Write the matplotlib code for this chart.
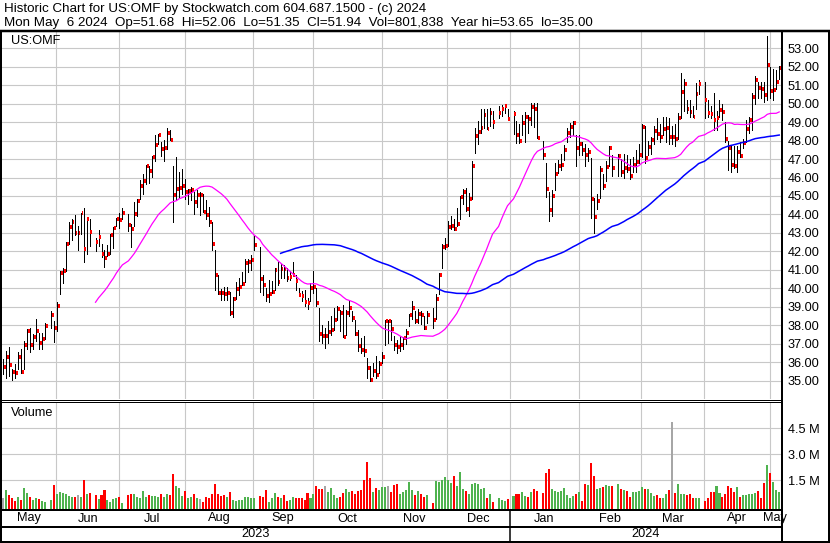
import numpy as np
import pandas as pd
import matplotlib
matplotlib.use("Agg")
import matplotlib.pyplot as plt
from matplotlib.lines import Line2D

plt.rcParams['font.family'] = ['Liberation Sans', 'DejaVu Sans']

START = "2023-05-08"
END = "2024-05-06"
HOLIDAYS = ["2023-05-29", "2023-06-19", "2023-07-04", "2023-09-04", "2023-11-23",
            "2023-12-25", "2024-01-01", "2024-01-15", "2024-02-19", "2024-03-29"]

# daily high / low / close (USD) and volume (millions), one row per month
HIGH = [
    36.16, 36.61, 36.84, 35.65, 35.88, 36.52, 36.70, 37.15, 37.78, 37.87, 37.51, 38.32, 37.60, 37.60, 38.14, 38.77, 38.23,
    39.26, 40.94, 41.12, 42.51, 43.59, 43.74, 43.95, 43.40, 44.10, 44.37, 43.88, 43.77, 42.74, 43.14, 42.38, 42.06, 42.33, 42.92, 43.32, 43.83, 44.10,
    44.37, 44.01, 43.50, 44.67, 44.85, 45.84, 46.20, 46.69, 46.65, 47.19, 48.31, 48.37, 47.95, 48.01, 48.68, 48.60, 46.65, 47.10, 46.29, 46.44,
    45.93, 45.39, 45.48, 45.21, 45.30, 45.21, 45.12, 44.76, 44.40, 43.58, 42.05, 40.70, 39.97, 40.06, 40.06, 39.79, 39.52, 40.34, 40.55, 40.88, 41.56, 41.60, 41.78,
    42.83, 42.23, 40.70, 40.01, 40.46, 40.37, 41.09, 41.45, 41.32, 41.27, 41.09, 40.91, 41.45, 40.73, 40.01, 39.83, 39.92, 39.47, 40.28, 40.91,
    40.01, 38.93, 38.03, 37.85, 38.21, 38.48, 38.93, 39.02, 38.84, 39.11, 38.84, 39.34, 38.75, 38.30, 37.76, 37.31, 37.40, 36.23, 35.77, 35.95, 36.32, 36.05,
    36.57, 38.30, 38.30, 38.30, 37.40, 37.20, 37.40, 37.35, 37.80, 38.59, 39.31, 38.77, 38.86, 38.77, 38.50, 38.77, 38.95, 39.67, 40.81, 42.38, 42.74,
    43.65, 43.92, 43.74, 44.37, 45.00, 45.36, 45.45, 45.18, 46.90, 48.70, 49.06, 49.73, 49.73, 49.73, 49.78, 49.60, 49.87, 49.91, 49.91, 49.69,
    49.60, 49.06, 48.88, 49.39, 49.57, 49.40, 50.02, 50.02, 50.05, 48.00, 46.77, 45.24, 45.30, 46.77, 46.95, 47.26, 47.77, 48.67, 48.94, 49.08, 48.30,
    48.30, 47.90, 47.80, 47.60, 47.04, 44.90, 45.10, 46.60, 46.20, 46.90, 47.70, 47.20, 47.30, 47.00, 47.30, 47.20, 47.00, 47.10, 47.50, 47.80,
    48.90, 48.80, 48.00, 48.20, 48.80, 49.20, 48.90, 49.30, 49.30, 49.20, 48.80, 48.90, 49.50, 51.65, 51.35, 50.20, 50.20, 49.90, 51.10, 51.30,
    51.20, 50.20, 49.90, 50.60, 49.60, 50.20, 50.00, 49.00, 48.00, 47.70, 47.70, 47.70, 47.90, 48.10, 49.10, 49.30, 50.60, 51.50, 51.20, 51.20, 51.20, 53.65,
    52.00, 51.90, 51.80, 52.06,
]
LOW = [
    35.34, 35.16, 35.25, 35.04, 35.16, 35.61, 35.42, 35.61, 36.70, 36.55, 36.70, 37.15, 36.70, 36.70, 37.24, 37.87, 37.09,
    37.69, 39.71, 40.31, 40.94, 42.38, 42.62, 42.90, 42.10, 42.92, 41.43, 41.84, 42.29, 42.02, 42.29, 41.71, 41.16, 41.75, 41.84, 42.20, 43.38, 43.29,
    43.74, 43.11, 42.24, 43.40, 43.94, 44.85, 45.12, 45.66, 45.71, 46.02, 46.92, 47.83, 47.19, 46.92, 47.52, 48.01, 43.58, 44.85, 44.94, 45.12,
    44.85, 44.58, 44.76, 44.04, 44.40, 43.95, 44.13, 43.77, 43.40, 42.05, 39.88, 39.70, 39.34, 39.34, 39.34, 38.53, 38.44, 39.43, 39.61, 40.16, 40.34, 40.88, 40.97,
    42.05, 39.79, 39.65, 39.29, 39.23, 39.74, 39.92, 40.19, 40.55, 40.55, 40.37, 40.46, 40.68, 39.92, 39.56, 39.29, 39.02, 38.87, 39.29, 39.74,
    39.02, 37.13, 37.04, 36.77, 37.04, 37.49, 37.76, 38.30, 37.67, 37.34, 37.49, 38.51, 38.21, 37.49, 36.59, 36.50, 36.32, 35.14, 35.00, 35.23, 35.14, 35.41,
    35.94, 36.95, 37.04, 37.20, 36.65, 36.50, 36.60, 36.70, 37.00, 37.96, 38.32, 38.14, 38.14, 38.05, 37.78, 38.14, 37.87, 38.32, 39.67, 41.12, 42.11,
    42.29, 43.19, 43.16, 43.40, 43.74, 44.55, 44.19, 43.92, 44.82, 47.35, 47.80, 48.43, 48.70, 48.61, 48.79, 48.70, 49.24, 49.33, 49.51, 49.12,
    48.34, 47.89, 47.89, 48.31, 47.95, 48.40, 48.85, 48.76, 48.16, 46.99, 44.94, 43.62, 43.89, 45.33, 46.23, 46.41, 46.95, 47.95, 48.22, 48.31, 46.60,
    47.20, 47.20, 46.60, 46.90, 43.80, 43.00, 44.30, 44.90, 45.40, 45.80, 46.60, 46.10, 46.10, 46.10, 46.00, 46.30, 45.90, 46.30, 46.30, 46.80,
    47.10, 46.80, 47.20, 47.30, 47.80, 48.10, 47.90, 48.30, 47.90, 47.80, 47.80, 47.70, 48.10, 49.20, 49.60, 49.50, 49.30, 49.30, 49.70, 50.50,
    49.20, 49.30, 49.20, 48.60, 48.60, 49.30, 49.10, 47.90, 46.40, 46.30, 46.50, 46.30, 47.10, 47.60, 47.90, 48.40, 48.60, 50.00, 50.30, 50.30, 50.10, 50.20,
    50.30, 50.20, 50.80, 51.35,
]
CLOSE = [
    35.74, 36.28, 35.83, 35.47, 35.40, 36.28, 35.47, 36.93, 37.69, 36.93, 37.36, 37.69, 37.04, 37.24, 37.96, 38.56, 37.83,
    39.04, 40.81, 40.94, 42.40, 43.32, 43.59, 43.00, 43.00, 44.06, 42.11, 43.75, 43.05, 42.51, 42.78, 41.84, 41.66, 41.88, 42.89, 43.27, 43.77, 43.70,
    44.06, 43.41, 43.23, 44.00, 44.72, 45.52, 45.80, 46.60, 46.33, 47.09, 47.79, 48.28, 47.56, 47.62, 48.42, 48.06, 45.03, 45.39, 45.45, 45.52,
    45.20, 45.25, 45.35, 44.67, 45.07, 45.07, 44.13, 43.95, 43.58, 42.41, 40.73, 39.76, 39.72, 39.67, 39.76, 38.66, 39.40, 39.97, 40.05, 40.21, 41.38, 41.45, 41.51,
    42.32, 40.52, 40.18, 39.59, 39.70, 39.79, 41.00, 40.33, 41.05, 41.04, 40.55, 40.59, 40.71, 40.37, 39.61, 39.56, 39.27, 39.20, 39.99, 40.06,
    39.20, 37.50, 37.40, 37.40, 37.61, 37.76, 38.30, 38.87, 38.66, 37.34, 38.66, 38.93, 38.39, 37.52, 36.86, 36.68, 36.60, 35.68, 35.05, 35.50, 35.32, 35.90,
    36.30, 38.21, 38.21, 37.80, 36.95, 36.84, 36.93, 37.30, 37.55, 38.54, 38.95, 38.23, 38.59, 38.54, 37.83, 38.56, 38.29, 39.40, 40.72, 42.24, 42.29,
    43.34, 43.38, 43.19, 43.47, 44.96, 45.22, 44.31, 44.86, 46.62, 48.25, 48.47, 48.70, 49.37, 48.61, 49.48, 49.01, 49.48, 49.73, 49.87, 49.19,
    49.42, 48.32, 47.98, 48.94, 49.30, 49.15, 49.84, 49.73, 48.16, 47.23, 45.37, 44.25, 45.01, 46.20, 46.60, 46.66, 47.50, 48.43, 48.76, 48.94, 47.58,
    47.82, 47.49, 47.22, 47.37, 44.84, 43.88, 44.73, 46.41, 45.56, 46.59, 47.58, 46.50, 47.17, 46.31, 46.49, 46.44, 46.11, 46.70, 46.85, 47.20,
    48.72, 47.04, 47.64, 48.04, 48.54, 48.36, 48.22, 48.63, 48.70, 48.22, 48.22, 48.09, 49.25, 50.65, 51.07, 49.71, 49.53, 49.30, 50.51, 51.07,
    50.20, 49.48, 49.43, 49.12, 49.20, 49.66, 49.53, 48.09, 47.58, 46.68, 46.60, 47.40, 47.17, 47.89, 48.65, 49.12, 50.38, 51.28, 50.85, 50.78, 50.47, 52.10,
    50.70, 50.76, 51.19, 51.94,
]
VOLUME = [
    0.44, 0.93, 0.63, 0.44, 0.31, 0.54, 0.35, 1.03, 0.77, 0.50, 0.33, 0.44, 0.41, 0.29, 0.21, 0.35, 1.22,
    0.68, 0.79, 0.73, 0.68, 0.58, 0.49, 0.49, 0.63, 0.54, 1.51, 0.70, 0.77, 0.63, 0.41, 0.63, 0.93, 0.33, 0.25, 0.41, 0.44, 0.52,
    0.14, 0.63, 0.70, 0.70, 0.54, 0.44, 0.87, 0.54, 0.63, 0.58, 0.58, 0.54, 0.68, 0.49, 0.70, 0.63, 1.86, 1.16, 1.03, 0.58,
    0.89, 0.44, 0.49, 0.70, 0.44, 0.41, 0.25, 0.50, 0.48, 0.68, 1.28, 0.68, 0.60, 0.64, 0.50, 0.79, 0.33, 0.29, 0.33, 0.35, 0.52, 0.54, 0.48,
    0.48, 0.58, 0.54, 0.93, 0.25, 0.48, 0.75, 0.54, 0.44, 0.64, 0.29, 0.35, 0.52, 0.48, 0.48, 0.48, 0.35, 0.75, 0.48, 0.70,
    1.16, 0.97, 1.00, 1.16, 0.83, 1.03, 0.64, 0.44, 0.54, 0.77, 0.97, 0.83, 0.89, 0.71, 0.89, 0.95, 1.51, 2.57, 1.64, 0.83, 1.03, 0.93,
    1.08, 1.12, 1.18, 0.83, 1.22, 1.28, 0.70, 0.83, 0.93, 1.37, 0.93, 0.64, 0.89, 0.70, 0.54, 0.64, 0.19, 1.45, 1.37, 1.51, 1.70,
    1.51, 1.35, 1.74, 1.18, 1.95, 0.99, 0.87, 0.68, 1.26, 1.32, 1.26, 0.97, 1.06, 0.48, 0.68, 0.21, 0.44, 0.33, 0.29, 0.41,
    0.58, 0.70, 0.68, 0.83, 0.58, 0.54, 0.83, 0.99, 0.89, 0.77, 1.93, 2.15, 0.99, 0.89, 0.83, 0.89, 1.03, 0.64, 0.48, 0.58, 0.70,
    0.79, 0.29, 1.28, 1.22, 2.48, 1.76, 0.99, 1.03, 1.08, 1.22, 1.18, 1.16, 1.26, 0.99, 0.93, 0.89, 0.54, 0.79, 0.79, 0.89,
    1.08, 0.99, 0.97, 0.74, 0.58, 0.64, 0.48, 0.48, 0.70, 0.91, 4.85, 0.77, 1.28, 0.70, 0.70, 0.64, 0.70, 0.48, 0.48, 0.48,
    0.29, 0.48, 0.79, 0.79, 1.18, 0.74, 0.54, 0.70, 1.16, 1.03, 0.79, 1.12, 0.54, 0.64, 0.64, 0.68, 0.70, 0.77, 0.89, 0.48, 1.35, 2.38,
    1.93, 1.37, 0.93, 0.80,
]

MONTH_LABELS = ["May", "Jun", "Jul", "Aug", "Sep", "Oct", "Nov", "Dec", "Jan", "Feb", "Mar", "Apr", "May"]
YEAR_LABELS = ["2023", "2024"]
PRICE_TICKS = list(range(35, 54))
VOL_TICKS = [1.5, 3.0, 4.5]

HEADER1 = "Historic Chart for US:OMF by Stockwatch.com 604.687.1500 - (c) 2024"
HEADER2 = "Mon May  6 2024  Op=51.68  Hi=52.06  Lo=51.35  Cl=51.94  Vol=801,838  Year hi=53.65  lo=35.00"

W, H = 830, 543
def fx(px):
    return px / W
def fy(py):
    return 1 - py / H

# trading days placed on a weekday axis (holidays leave gaps)
dates = pd.bdate_range(START, END)
dates = dates[~dates.isin(pd.to_datetime(HOLIDAYS))]
x = np.busday_count(np.datetime64(START), dates.values.astype("datetime64[D]")).astype(float)
high = np.array(HIGH)
low = np.array(LOW)
close = np.array(CLOSE)
vol = np.array(VOLUME)

ma30 = pd.Series(close).rolling(30).mean().values
ma90 = pd.Series(close).rolling(90).mean().values

diff = np.diff(close, prepend=np.nan)
vcolors = np.where(diff > 0, "#4fb34f", np.where(diff < 0, "#ff0000", "#a6a6a6"))

XMIN, XMAX = -0.33, 260.6
month_starts = pd.date_range("2023-06-01", "2024-05-01", freq="MS")
grid_x = [np.busday_count(np.datetime64(START),
                          np.busday_offset(np.datetime64(m.date()), 0, roll="backward")) - 0.15
          for m in month_starts]

fig = plt.figure(figsize=(W / 100, H / 100), dpi=100)
fig.patch.set_facecolor("white")

L, R = 2, 781
P_TOP, P_BOT = 31, 399
V_TOP, V_BOT = 402, 509
ax = fig.add_axes([fx(L), fy(P_BOT), fx(R) - fx(L), fy(P_TOP) - fy(P_BOT)])
axv = fig.add_axes([fx(L), fy(V_BOT), fx(R) - fx(L), fy(V_TOP) - fy(V_BOT)])
axd = fig.add_axes([fx(L), fy(541), fx(R) - fx(L), fy(510) - fy(541)])

GRID = "#c8c8c8"
FS = 9.2
for a in (ax, axv):
    a.set_xlim(XMIN, XMAX)
    for s in a.spines.values():
        s.set_visible(False)
    a.set_xticks([])
    for gx in grid_x:
        a.axvline(gx, color=GRID, lw=0.8, zorder=0)

# price panel
ax.set_ylim(34.0, 53.94)
for p in PRICE_TICKS:
    ax.axhline(p, color=GRID, lw=0.8, zorder=0)
ax.vlines(x, low, high, color="black", lw=0.72, zorder=2, antialiased=False)
ax.hlines(close, x + 0.3, x + 0.95, color="#ff0000", lw=1.45, zorder=3, antialiased=False)
ax.plot(x, ma30, color="#ff00ff", lw=0.9, zorder=4)
ax.plot(x, ma90, color="#0000ff", lw=1.1, zorder=4)
ax.yaxis.tick_right()
ax.set_yticks(PRICE_TICKS)
ax.set_yticklabels([f"{p:.2f}" for p in PRICE_TICKS])
ax.tick_params(axis="y", length=0, pad=5, labelsize=FS)
ax.text(9 / (R - L), (P_BOT - 41) / (P_BOT - P_TOP), "US:OMF", transform=ax.transAxes,
        fontsize=FS, va="center", ha="left")

# volume panel
VMIN, VMAX = -0.18, 6.03
axv.set_ylim(VMIN, VMAX)
for v in VOL_TICKS:
    axv.axhline(v, color=GRID, lw=0.8, zorder=0)
axv.bar(x, vol - VMIN, bottom=VMIN, width=0.68, color=vcolors, zorder=2, linewidth=0)
axv.yaxis.tick_right()
axv.set_yticks(VOL_TICKS)
axv.set_yticklabels([f"{v:.1f} M" for v in VOL_TICKS])
axv.tick_params(axis="y", length=0, pad=5, labelsize=FS)
axv.text(9 / (R - L), (V_BOT - 413) / (V_BOT - V_TOP), "Volume", transform=axv.transAxes,
         fontsize=FS, va="center", ha="left")

# date strip
axd.set_xlim(XMIN, XMAX)
axd.set_ylim(0, 1)
axd.axis("off")
bounds = [XMIN] + grid_x + [XMAX]
for lab, a0, a1 in zip(MONTH_LABELS, bounds[:-1], bounds[1:]):
    axd.text((a0 + a1) / 2, (541 - 518.5) / 31, lab, ha="center", va="center", fontsize=FS)
jan = grid_x[7]
for lab, a0, a1 in zip(YEAR_LABELS, [XMIN, jan], [jan, XMAX]):
    axd.text((a0 + a1) / 2, (541 - 534) / 31, lab, ha="center", va="center", fontsize=FS)
jan_px = L + (jan - XMIN) / (XMAX - XMIN) * (R - L)

# frame lines (pixel coordinates)
def hline(py, x0, x1, w):
    fig.add_artist(Line2D([fx(x0), fx(x1)], [fy(py), fy(py)], color="black", lw=w * 0.72,
                          transform=fig.transFigure, solid_capstyle="butt"))
def vline(px, y0, y1, w):
    fig.add_artist(Line2D([fx(px), fx(px)], [fy(y0), fy(y1)], color="black", lw=w * 0.72,
                          transform=fig.transFigure, solid_capstyle="butt"))

hline(30.5, 0, W, 2.5)
hline(400, 0, 782, 1)
hline(402, 0, 782, 1)
hline(510, 0, 782, 2)
hline(526.5, 0, 782, 2)
hline(541.5, 0, W, 2)
vline(1, 30, H, 2)
vline(782, 30, H, 2)
vline(829, 30, H, 2)
vline(jan_px, 510, 542, 1.5)

fig.text(fx(4), fy(9), HEADER1, fontsize=9.6, va="center", ha="left")
fig.text(fx(4), fy(23), HEADER2, fontsize=9.6, va="center", ha="left")

fig.savefig("out.png", dpi=100, facecolor="white")
